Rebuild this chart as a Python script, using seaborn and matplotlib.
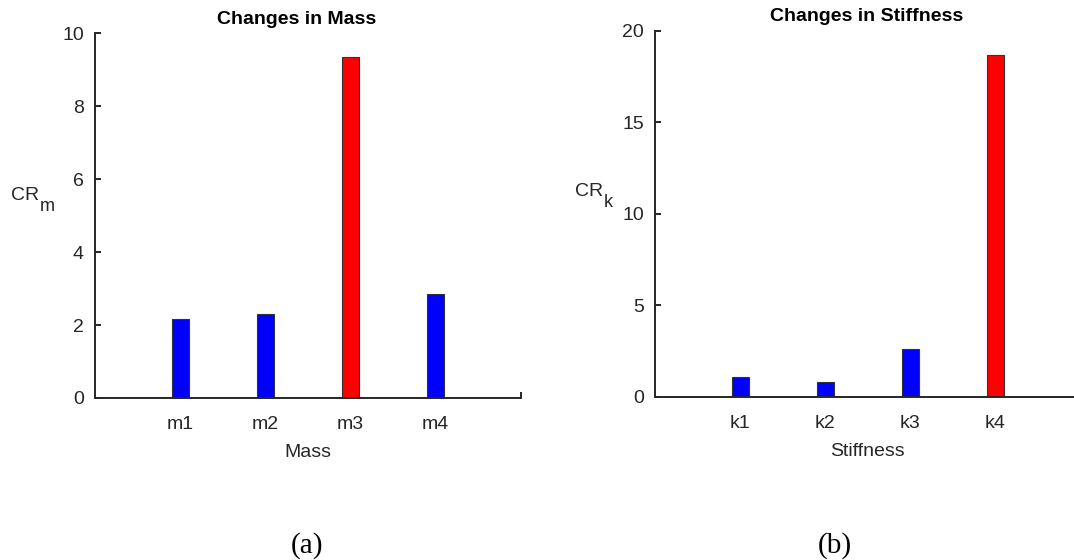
import matplotlib
matplotlib.use("Agg")
import matplotlib.pyplot as plt
import seaborn as sns

# Contribution ratios of each parameter change
mass_labels = ["m1", "m2", "m3", "m4"]
mass_cr = [2.17, 2.30, 9.35, 2.85]
mass_colors = ["#0000ff", "#0000ff", "#ff0000", "#0000ff"]

stiff_labels = ["k1", "k2", "k3", "k4"]
stiff_cr = [1.08, 0.79, 2.59, 18.67]
stiff_colors = ["#0000ff", "#0000ff", "#0000ff", "#ff0000"]

mass_yticks = [0, 2, 4, 6, 8, 10]
stiff_yticks = [0, 5, 10, 15, 20]

sns.set_theme(style="white")
plt.rcParams["font.family"] = ["Liberation Sans", "DejaVu Sans"]

INK = "#262626"
FS = 14

fig = plt.figure(figsize=(10.74, 5.6), dpi=100)
ax1 = fig.add_axes([0.0885, 0.2893, 0.3966, 0.6512])
ax2 = fig.add_axes([0.6099, 0.2916, 0.3957, 0.6536])


def draw_panel(ax, labels, values, colors, yticks, title, xlabel, sub,
               title_x, ylab_xy):
    sns.barplot(x=labels, y=values, hue=labels, palette=colors, width=0.2,
                edgecolor="#333333", linewidth=0.8, legend=False, ax=ax,
                saturation=1)
    ax.set_xlim(-1, 4)
    ax.set_ylim(yticks[0], yticks[-1])
    ax.set_yticks(yticks)
    ax.set_yticklabels([str(t) for t in yticks])
    for side in ("top", "right"):
        ax.spines[side].set_visible(False)
    for side in ("left", "bottom"):
        ax.spines[side].set_color(INK)
        ax.spines[side].set_linewidth(1.4)
    ax.tick_params(axis="y", direction="in", length=4, width=1.4,
                   color=INK, labelcolor=INK, labelsize=FS, pad=8, left=True)
    ax.tick_params(axis="x", which="major", length=0, labelcolor=INK,
                   labelsize=FS, pad=13)
    ax.set_xticks([4], minor=True)
    ax.tick_params(axis="x", which="minor", direction="in", length=4,
                   width=1.4, color=INK, bottom=True)
    ax.set_xlabel(xlabel, fontsize=FS, color=INK, labelpad=8)
    ax.set_ylabel("")
    # y label "CR" with a lowered subscript
    x0, y0 = ylab_xy
    cr = ax.text(x0, y0, "CR", transform=ax.transAxes, ha="left",
                 va="center", fontsize=FS, color=INK)
    ax.annotate(sub, xy=(1, 0), xycoords=cr, xytext=(0.5, -1.5),
                textcoords="offset points", ha="left", va="center",
                fontsize=FS - 1, color=INK)
    ax.text(title_x, 1.038, title, transform=ax.transAxes, ha="center",
            va="center", fontsize=FS, fontweight="bold", color="black")
    ax.set_facecolor("white")


draw_panel(ax1, mass_labels, mass_cr, mass_colors, mass_yticks,
           "Changes in Mass", "Mass", "m", 0.474, (-0.198, 0.555))
draw_panel(ax2, stiff_labels, stiff_cr, stiff_colors, stiff_yticks,
           "Changes in Stiffness", "Stiffness", "k", 0.499, (-0.188, 0.56))

serif = ["Liberation Serif", "DejaVu Serif"]
fig.text(307.5 / 1074, 1 - 546 / 560, "(a)", ha="center", va="center",
         fontsize=21, family=serif, color="black")
fig.text(835 / 1074, 1 - 546 / 560, "(b)", ha="center", va="center",
         fontsize=21, family=serif, color="black")

fig.savefig("out.png", dpi=100, facecolor="white")
